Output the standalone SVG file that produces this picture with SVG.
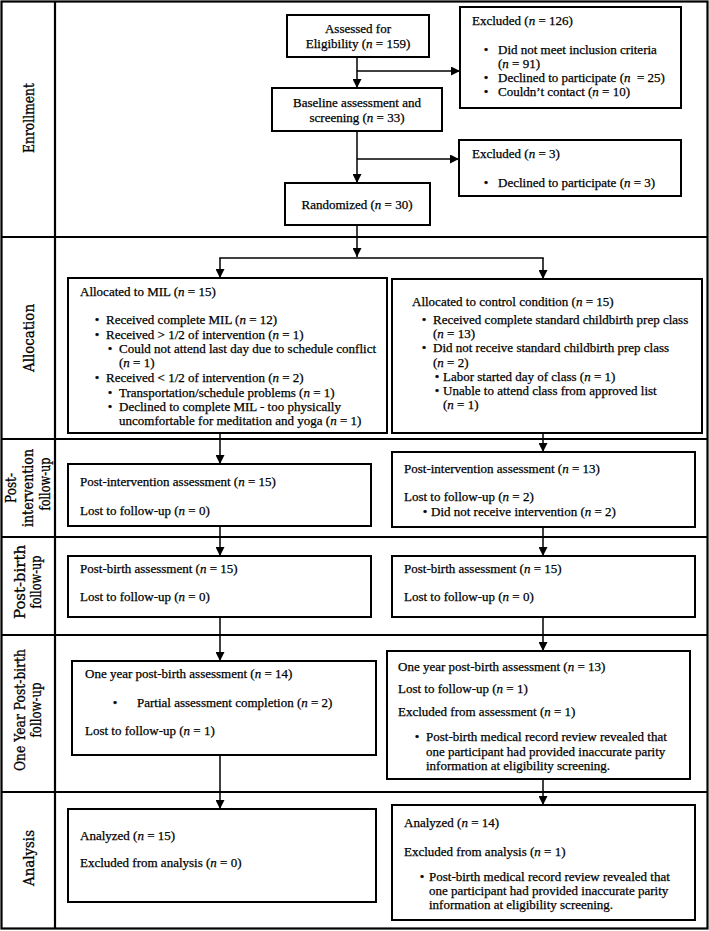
<svg xmlns="http://www.w3.org/2000/svg" width="709" height="931" viewBox="0 0 709 931">
<style>
.t{font-family:"Liberation Serif","Times New Roman",serif;font-size:13px;fill:#000;stroke:#000;stroke-width:0.25}
.c{text-anchor:middle}
.i{font-style:italic}
.lab{font-family:"DejaVu Serif","Liberation Serif",serif;font-size:14px;fill:#000;stroke:#000;stroke-width:0.3;text-anchor:middle}
.box{fill:#fff;stroke:#000;stroke-width:2}
.frame{fill:none;stroke:#000;stroke-width:2.2}
.conn{fill:none;stroke:#000;stroke-width:1.5}
</style>
<defs>
<marker id="ah" viewBox="0 0 10 10" refX="10" refY="5" markerWidth="9" markerHeight="9" markerUnits="userSpaceOnUse" orient="auto">
<path d="M0,0 L10,5 L0,10 z" fill="#000"/>
</marker>
</defs>
<rect x="0" y="0" width="709" height="931" fill="#fff"/>
<g id="frame">
<rect class="frame" x="1.5" y="1.5" width="706" height="927"/>
<line class="frame" x1="55" y1="1" x2="55" y2="929"/>
<line class="frame" x1="1" y1="237" x2="708" y2="237"/>
<line class="frame" x1="1" y1="439" x2="708" y2="439"/>
<line class="frame" x1="1" y1="537" x2="708" y2="537"/>
<line class="frame" x1="1" y1="635" x2="708" y2="635"/>
<line class="frame" x1="1" y1="792" x2="708" y2="792"/>
</g>
<g id="labels">
<text class="lab" transform="translate(29,118) rotate(-90)" y="5" textLength="70" lengthAdjust="spacingAndGlyphs">Enrollment</text>
<text class="lab" transform="translate(29,338) rotate(-90)" y="5" textLength="68" lengthAdjust="spacingAndGlyphs">Allocation</text>
<text class="lab" transform="translate(0,488) rotate(-90)" y="16" textLength="30" lengthAdjust="spacingAndGlyphs">Post-</text>
<text class="lab" transform="translate(0,488) rotate(-90)" y="33" textLength="78" lengthAdjust="spacingAndGlyphs">intervention</text>
<text class="lab" transform="translate(0,484) rotate(-90)" y="50" textLength="53" lengthAdjust="spacingAndGlyphs">follow-up</text>
<text class="lab" transform="translate(0,582) rotate(-90)" y="25" textLength="74" lengthAdjust="spacingAndGlyphs">Post-birth</text>
<text class="lab" transform="translate(0,582) rotate(-90)" y="41" textLength="53" lengthAdjust="spacingAndGlyphs">follow-up</text>
<text class="lab" transform="translate(0,710) rotate(-90)" y="25" textLength="122" lengthAdjust="spacingAndGlyphs">One Year Post-birth</text>
<text class="lab" transform="translate(0,710) rotate(-90)" y="41" textLength="55" lengthAdjust="spacingAndGlyphs">follow-up</text>
<text class="lab" transform="translate(29,858) rotate(-90)" y="5" textLength="56" lengthAdjust="spacingAndGlyphs">Analysis</text>
</g>
<g id="connectors">
<line class="conn" x1="357" y1="57" x2="357" y2="88" marker-end="url(#ah)"/>
<line class="conn" x1="357" y1="71" x2="460" y2="71" marker-end="url(#ah)"/>
<line class="conn" x1="357" y1="131" x2="357" y2="183" marker-end="url(#ah)"/>
<line class="conn" x1="357" y1="159" x2="459" y2="159" marker-end="url(#ah)"/>
<line class="conn" x1="357" y1="225" x2="357" y2="257" marker-end="url(#ah)"/>
<line class="conn" x1="219.25" y1="258" x2="543.75" y2="258"/>
<line class="conn" x1="220" y1="258" x2="220" y2="278" marker-end="url(#ah)"/>
<line class="conn" x1="543" y1="258" x2="543" y2="279" marker-end="url(#ah)"/>
<line class="conn" x1="220" y1="433" x2="220" y2="464" marker-end="url(#ah)"/>
<line class="conn" x1="543" y1="433" x2="543" y2="452" marker-end="url(#ah)"/>
<line class="conn" x1="220" y1="526" x2="220" y2="556" marker-end="url(#ah)"/>
<line class="conn" x1="543" y1="527" x2="543" y2="556" marker-end="url(#ah)"/>
<line class="conn" x1="220" y1="617" x2="220" y2="661" marker-end="url(#ah)"/>
<line class="conn" x1="543" y1="617" x2="543" y2="651" marker-end="url(#ah)"/>
<line class="conn" x1="220" y1="755" x2="220" y2="809" marker-end="url(#ah)"/>
<line class="conn" x1="543" y1="779" x2="543" y2="805" marker-end="url(#ah)"/>
</g>
<g id="assessed">
<rect class="box" x="287" y="15" width="142" height="42"/>
<text class="t c" x="358" y="33">Assessed for</text>
<text class="t c" x="358" y="48">Eligibility (<tspan class="i">n</tspan> = 159)</text>
</g>
<g id="excluded1">
<rect class="box" x="460" y="7" width="221" height="101"/>
<text class="t" x="472" y="25">Excluded (<tspan class="i">n</tspan> = 126)</text>
<text class="t c" x="486" y="54">•</text>
<text class="t" x="498" y="54">Did not meet inclusion criteria</text>
<text class="t" x="498" y="68">(<tspan class="i">n</tspan> = 91)</text>
<text class="t c" x="486" y="82">•</text>
<text class="t" x="498" y="82" xml:space="preserve">Declined to participate (<tspan class="i">n</tspan>  = 25)</text>
<text class="t c" x="486" y="96">•</text>
<text class="t" x="498" y="96">Couldn’t contact (<tspan class="i">n</tspan> = 10)</text>
</g>
<g id="baseline">
<rect class="box" x="272" y="88" width="170" height="43"/>
<text class="t c" x="357" y="107">Baseline assessment and</text>
<text class="t c" x="357" y="122">screening (<tspan class="i">n</tspan> = 33)</text>
</g>
<g id="excluded2">
<rect class="box" x="459" y="140" width="222" height="56"/>
<text class="t" x="472" y="158">Excluded (<tspan class="i">n</tspan> = 3)</text>
<text class="t c" x="486" y="187">•</text>
<text class="t" x="498" y="187">Declined to participate (<tspan class="i">n</tspan> = 3)</text>
</g>
<g id="randomized">
<rect class="box" x="285" y="183" width="145" height="42"/>
<text class="t c" x="357" y="209">Randomized (<tspan class="i">n</tspan> = 30)</text>
</g>
<g id="alloc-mil">
<rect class="box" x="68" y="278" width="319" height="155"/>
<text class="t" x="80" y="296">Allocated to MIL (<tspan class="i">n</tspan> = 15)</text>
<text class="t c" x="97" y="324">•</text>
<text class="t" x="106" y="324">Received complete MIL (<tspan class="i">n</tspan> = 12)</text>
<text class="t c" x="97" y="339">•</text>
<text class="t" x="106" y="339">Received &gt; 1/2 of intervention (<tspan class="i">n</tspan> = 1)</text>
<text class="t c" x="110" y="353">•</text>
<text class="t" x="119" y="353">Could not attend last day due to schedule conflict</text>
<text class="t" x="119" y="367">(<tspan class="i">n</tspan> = 1)</text>
<text class="t c" x="97" y="382">•</text>
<text class="t" x="106" y="382">Received &lt; 1/2 of intervention (<tspan class="i">n</tspan> = 2)</text>
<text class="t c" x="110" y="397">•</text>
<text class="t" x="119" y="397">Transportation/schedule problems (<tspan class="i">n</tspan> = 1)</text>
<text class="t c" x="110" y="411">•</text>
<text class="t" x="119" y="411">Declined to complete MIL - too physically</text>
<text class="t" x="119" y="425">uncomfortable for meditation and yoga (<tspan class="i">n</tspan> = 1)</text>
</g>
<g id="alloc-control">
<rect class="box" x="392" y="279" width="310" height="154"/>
<text class="t" x="412" y="306">Allocated to control condition (<tspan class="i">n</tspan> = 15)</text>
<text class="t c" x="424" y="324">•</text>
<text class="t" x="433" y="324">Received complete standard childbirth prep class</text>
<text class="t" x="433" y="338">(<tspan class="i">n</tspan> = 13)</text>
<text class="t c" x="424" y="352">•</text>
<text class="t" x="433" y="352">Did not receive standard childbirth prep class</text>
<text class="t" x="433" y="367">(<tspan class="i">n</tspan> = 2)</text>
<text class="t c" x="437" y="381">•</text>
<text class="t" x="443" y="381">Labor started day of class (<tspan class="i">n</tspan> = 1)</text>
<text class="t c" x="437" y="395">•</text>
<text class="t" x="443" y="395">Unable to attend class from approved list</text>
<text class="t" x="443" y="409">(<tspan class="i">n</tspan> = 1)</text>
</g>
<g id="postint-mil">
<rect class="box" x="68" y="464" width="303" height="62"/>
<text class="t" x="80" y="486">Post-intervention assessment (<tspan class="i">n</tspan> = 15)</text>
<text class="t" x="80" y="515">Lost to follow-up (<tspan class="i">n</tspan> = 0)</text>
</g>
<g id="postint-control">
<rect class="box" x="392" y="452" width="303" height="75"/>
<text class="t" x="404" y="473">Post-intervention assessment (<tspan class="i">n</tspan> = 13)</text>
<text class="t" x="404" y="501">Lost to follow-up (<tspan class="i">n</tspan> = 2)</text>
<text class="t c" x="425" y="516">•</text>
<text class="t" x="431" y="516">Did not receive intervention (<tspan class="i">n</tspan> = 2)</text>
</g>
<g id="postbirth-mil">
<rect class="box" x="68" y="556" width="303" height="61"/>
<text class="t" x="80" y="573">Post-birth assessment (<tspan class="i">n</tspan> = 15)</text>
<text class="t" x="80" y="601">Lost to follow-up (<tspan class="i">n</tspan> = 0)</text>
</g>
<g id="postbirth-control">
<rect class="box" x="392" y="556" width="303" height="61"/>
<text class="t" x="404" y="573">Post-birth assessment (<tspan class="i">n</tspan> = 15)</text>
<text class="t" x="404" y="601">Lost to follow-up (<tspan class="i">n</tspan> = 0)</text>
</g>
<g id="oneyear-mil">
<rect class="box" x="72" y="661" width="304" height="94"/>
<text class="t" x="85" y="678">One year post-birth assessment (<tspan class="i">n</tspan> = 14)</text>
<text class="t c" x="115" y="707">•</text>
<text class="t" x="137" y="707">Partial assessment completion (<tspan class="i">n</tspan> = 2)</text>
<text class="t" x="85" y="735">Lost to follow-up (<tspan class="i">n</tspan> = 1)</text>
</g>
<g id="oneyear-control">
<rect class="box" x="387" y="651" width="303" height="128"/>
<text class="t" x="398" y="671">One year post-birth assessment (<tspan class="i">n</tspan> = 13)</text>
<text class="t" x="398" y="693">Lost to follow-up (<tspan class="i">n</tspan> = 1)</text>
<text class="t" x="398" y="716">Excluded from assessment (<tspan class="i">n</tspan> = 1)</text>
<text class="t c" x="417" y="741">•</text>
<text class="t" x="426" y="741">Post-birth medical record review revealed that</text>
<text class="t" x="426" y="756">one participant had provided inaccurate parity</text>
<text class="t" x="426" y="770">information at eligibility screening.</text>
</g>
<g id="analysis-mil">
<rect class="box" x="68" y="809" width="308" height="93"/>
<text class="t" x="80" y="840">Analyzed (<tspan class="i">n</tspan> = 15)</text>
<text class="t" x="80" y="867">Excluded from analysis (<tspan class="i">n</tspan> = 0)</text>
</g>
<g id="analysis-control">
<rect class="box" x="392" y="805" width="303" height="115"/>
<text class="t" x="404" y="827">Analyzed (<tspan class="i">n</tspan> = 14)</text>
<text class="t" x="404" y="856">Excluded from analysis (<tspan class="i">n</tspan> = 1)</text>
<text class="t c" x="422" y="881">•</text>
<text class="t" x="429" y="881">Post-birth medical record review revealed that</text>
<text class="t" x="429" y="895">one participant had provided inaccurate parity</text>
<text class="t" x="429" y="909">information at eligibility screening.</text>
</g>
</svg>
